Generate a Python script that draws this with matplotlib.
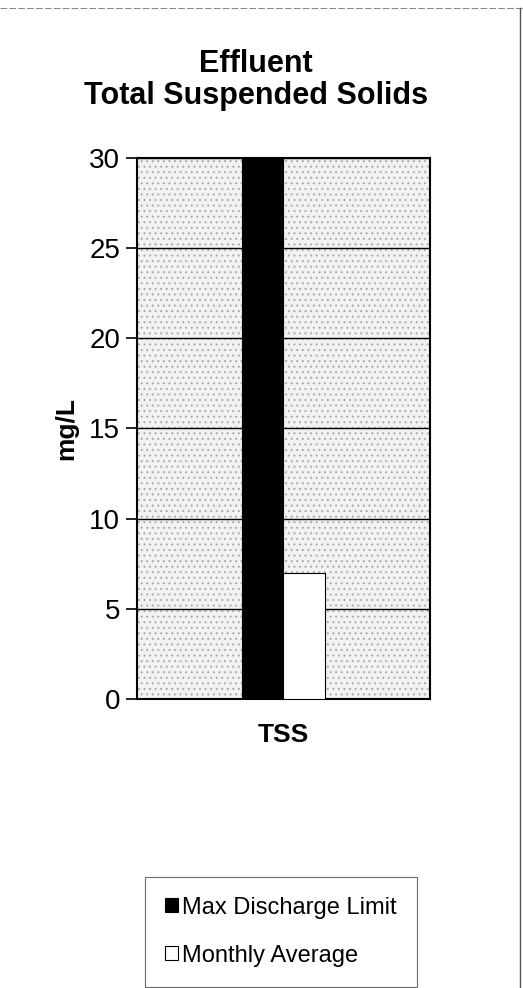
import matplotlib
matplotlib.use("Agg")
import matplotlib.pyplot as plt
from matplotlib.patches import Rectangle
import numpy as np

categories = ["TSS"]
series_names = ["Max Discharge Limit", "Monthly Average"]
max_limit = [30]
monthly_avg = [7.0]
yticks = [0, 5, 10, 15, 20, 25, 30]

plt.rcParams["font.family"] = ["Liberation Sans", "DejaVu Sans"]
plt.rcParams["hatch.color"] = "#a8a8a8"
plt.rcParams["hatch.linewidth"] = 0.7

fig = plt.figure(figsize=(5.23, 9.88), dpi=100)
ax = fig.add_axes([0.262, 0.2925, 0.560, 0.5476])

# stippled plot area
ax.set_facecolor("#f2f2f2")
ax.add_patch(Rectangle((0, 0), 1, 1, transform=ax.transAxes, facecolor="none",
                       edgecolor="#a8a8a8", hatch="...", lw=0, zorder=0))

x = np.arange(len(categories))
bw = 0.143
ax.bar(x - bw / 2, max_limit, bw, color="black", edgecolor="black", lw=0.8,
       label=series_names[0], zorder=3)
ax.bar(x + bw / 2, monthly_avg, bw, color="white", edgecolor="black", lw=0.8,
       label=series_names[1], zorder=3)

ax.set_xlim(-0.5, 0.5)
ax.set_ylim(0, 30)
ax.set_yticks(yticks)
ax.set_xticks(x)
ax.set_xticklabels(categories, fontsize=19, fontweight="bold")
ax.tick_params(axis="x", length=0, pad=17)
ax.tick_params(axis="y", labelsize=20, length=8, width=1.2, pad=4)
ax.yaxis.grid(True, color="black", lw=1.0, zorder=1)
ax.set_axisbelow(True)
for s in ax.spines.values():
    s.set_linewidth(1.5)
    s.set_color("black")

ax.set_ylabel("mg/L", fontsize=19, fontweight="bold", labelpad=8)
fig.text(0.49, 0.919, "Effluent\nTotal Suspended Solids", ha="center", va="center",
         fontsize=22, fontweight="bold", linespacing=1.1)

leg = fig.legend(loc="center", bbox_to_anchor=(0.537, 0.057), fontsize=17,
                 frameon=True, fancybox=False, edgecolor="#444444",
                 handlelength=0.55, handleheight=0.55, handletextpad=0.2,
                 labelspacing=1.1, borderpad=0.85, borderaxespad=0)
leg.get_frame().set_linewidth(0.8)

# page border (top and right)
fig.add_artist(plt.Line2D([0, 1], [0.992, 0.992], transform=fig.transFigure,
                          color="#888888", lw=0.8, ls=(0, (6, 2))))
fig.add_artist(plt.Line2D([0.995, 0.995], [0, 0.992], transform=fig.transFigure,
                          color="#555555", lw=1.0))

fig.savefig("out.png", dpi=100)
